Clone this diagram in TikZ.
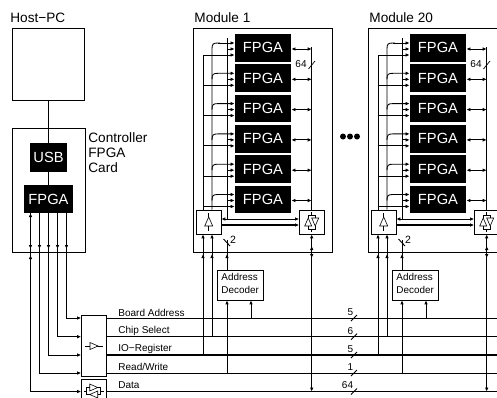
\documentclass[tikz,border=0pt]{standalone}
\usepackage{fontspec}
\setmainfont{Liberation Sans}
\usetikzlibrary{arrows.meta,calc}
\newcommand{\fs}[1]{\fontsize{#1}{#1}\selectfont}
\tikzset{
  x=1pt,y=-1pt,
  box/.style={draw,fill=white,inner sep=0pt,line width=0.75pt},
  blk/.style={fill=black,text=white,inner sep=0pt,font=\fs{14.7}},
  lbl/.style={inner sep=0pt,anchor=west,font=\fs{10}},
  ttl/.style={inner sep=0pt,anchor=west,font=\fs{13.6}},
  num/.style={inner sep=0pt,font=\fs{10}},
  ar/.style={-{Latex[length=4pt,width=3.6pt]}},
  bar/.style={{Latex[length=4pt,width=3.6pt]}-{Latex[length=4pt,width=3.6pt]}},
  pics/bufsym/.style={code={
    \draw[line width=0.6pt] (0,-9) -- (0,-5) (0,4) -- (0,9);
    \draw[line width=0.6pt] (-4,4) -- (4,4) -- (0,-5) -- cycle;}},
  pics/bidirsym/.style={code={
    \draw[line width=0.6pt] (-7,4) -- (0,4) -- (-3.5,-4) -- cycle;
    \draw[line width=0.6pt] (0,-4) -- (7,-4) -- (3.5,4) -- cycle;
    \draw[line width=0.6pt] (-3.5,-4) -- (-3.5,-7) -- (3.5,-7) -- (3.5,-4)
      (3.5,4) -- (3.5,7) -- (-3.5,7) -- (-3.5,4);
    \draw[line width=0.6pt] (0,-7) -- (0,-10) (0,7) -- (0,10);}},
}
\begin{document}
\begin{tikzpicture}[line width=0.85pt]
\useasboundingbox (0,0) rectangle (497,397);
\clip (0,0) rectangle (497,397);
\fill[white] (0,0) rectangle (497,397);

% bus coordinates
\coordinate (ba) at (0,318);
\coordinate (cs) at (0,336.7);
\coordinate (io) at (0,355);
\coordinate (rw) at (0,373);
\coordinate (da) at (0,391.5);
\coordinate (rightend) at (500,0);

% host and controller
\node[ttl] (hosttxt) at (10,17.5) {Host−PC};
\node[box,minimum width=72pt,minimum height=72pt] (host) at (48.6,64) {};
\node[box,minimum width=72.5pt,minimum height=124pt] (ctl) at (48.7,190) {};
\node[blk,minimum width=37pt,minimum height=29pt] (usb) at (48.5,157.5) {USB};
\node[blk,minimum width=49pt,minimum height=28pt] (cf) at (48.5,199) {FPGA};
\node[ttl] (c1) at (88,138) {Controller};
\node[ttl] (c2) at (88,153) {FPGA};
\node[ttl] (c3) at (88,168) {Card};
\draw[line width=1.5pt] (host.south -| usb.north) -- (usb.north);
\draw[line width=1.2pt] (usb.south) -- (cf.north);

% bus boxes
\node[box,minimum width=24.5pt,minimum height=60.5pt] (drv) at (93.7,346) {};
\node[box,minimum width=24.5pt,minimum height=24pt] (bid) at (93.7,391) {};
\draw[line width=0.6pt] (85,346) -- (103,346);
\draw[line width=0.6pt,fill=white] (90,342.5) -- (98,346) -- (90,349.5) -- cycle;
\pic[rotate=90] at (93.7,391) {bidirsym};

% controller lines to bus
\foreach \px/\bus/\bb in {66.5/ba/drv,57.5/cs/drv,48.5/io/drv,39.5/rw/drv,30.5/da/bid}{
  \coordinate (t) at (\px,0);
  \draw[ar] (cf.south -| t) |- (\bb.west |- \bus);
  \draw[ar] (\px,243) -- (\px,249);
}
\draw[ar] (30.5,220) -- (30.5,213);
\draw[ar] (30.5,262) -- (30.5,255);

% bus lines
\draw (drv.east |- ba) -- (rightend |- ba);
\draw (drv.east |- cs) -- (rightend |- cs);
\draw[line width=1.05pt] (drv.east |- io) -- (rightend |- io);
\draw (drv.east |- rw) -- (rightend |- rw);
\draw (bid.east |- da) -- (rightend |- da);

\node[lbl] (tba) at (118,312.5) {Board Address};
\node[lbl] (tcs) at (118,330.5) {Chip Select};
\node[lbl] (tio) at (118,349) {IO−Register};
\node[lbl] (trw) at (118,366.5) {Read/Write};
\node[lbl] (tda) at (118,385) {Data};

\foreach \yy/\ntxt/\nx in {318/5/350.5,336.7/6/350.5,355/5/350.5,373/1/350.5,391.5/64/347.5}{
  \draw[line width=0.9pt] (351,\yy+3) -- (357,\yy-3);
  \node[num] at (\nx,\yy-6) {\ntxt};
}

% dots
\foreach \dx in {343,350,357}{\fill (\dx,136.5) circle (3);}

% modules
\foreach \off/\m/\title in {0/a/Module 1,175/b/Module 20}{
\begin{scope}[xshift=\off pt]
  \node[ttl] (\m-t) at (194,17.5) {\title};
  \node[box,minimum width=139pt,minimum height=224pt] (\m-box) at (263,140) {};
  \coordinate (\m-x1) at (203,0);
  \coordinate (\m-x2) at (212,0);
  \coordinate (\m-x3) at (227,0);
  \coordinate (\m-xr) at (311.7,0);
  \node[box,minimum width=24.5pt,minimum height=24pt] (\m-buf) at (208.7,222) {};
  \node[box,minimum width=24.5pt,minimum height=24pt] (\m-bd) at (311.7,222) {};
  \pic at (\m-buf.center) {bufsym};
  \pic at (\m-bd.center) {bidirsym};
  \node[box,minimum width=45.5pt,minimum height=30pt,align=left,font=\fs{9.9}] (\m-dec) at (240.2,285)
     {\begin{tabular}{@{}l@{}}Address\\[2.5pt]Decoder\end{tabular}};
  % vertical rails
  \draw (\m-x1 |- \m-buf.north) -- (203,55);
  \draw (\m-x2 |- \m-buf.north) -- (212,49)
        .. controls (212,44) and (213,43) .. (218,43) -- (220,43);
  \draw (227,219) -- (227,38);
  \draw (\m-xr |- \m-bd.north) -- (311.7,47);
  \foreach \i in {1,...,6}{
    \pgfmathsetmacro{\cy}{47.9+30.3*(\i-1)}
    \node[blk,minimum width=56pt,minimum height=27.7pt] (\m-f\i) at (263,\cy) {FPGA};
    \pgfmathsetmacro{\ya}{\cy-4.9}
    \pgfmathsetmacro{\yb}{\cy+1.1}
    \pgfmathsetmacro{\yc}{\cy+7.1}
    \ifnum\i=1\relax
      \draw[ar] (218,\ya) -- (\m-f\i.west |- 0,\ya);
    \else
      \draw[ar] (212,\ya+6) .. controls (212,\ya+1) and (213,\ya) .. (218,\ya) -- (\m-f\i.west |- 0,\ya);
    \fi
    \draw[ar] (\m-x3 |- 0,\yb) -- (\m-f\i.west |- 0,\yb);
    \draw[ar] (\m-x1 |- 0,\yc) -- (\m-f\i.west |- 0,\yc);
    \draw[bar] (\m-f\i.east |- 0,\yb) -- (\m-xr |- 0,\yb);
  }
  \draw[line width=0.7pt] (308.5,69) -- (315,61);
  \node[num] (\m-n64) at (301,64) {64};
  % buffer to bidir
  \draw[bar] (\m-buf.east |- 0,219) -- (\m-bd.west |- 0,219);
  \draw[ar,line width=1.05pt] (\m-buf.east |- 0,225) -- (\m-bd.west |- 0,225);
  % bus to buffer and decoder
  \draw[ar] (\m-x1 |- io) -- (\m-buf.south -| \m-x1);
  \draw[ar] (\m-x2 |- cs) -- (\m-buf.south -| \m-x2);
  \draw[ar] (203,259) -- (203,254);
  \draw[ar] (212,259) -- (212,254);
  \draw (\m-x3 |- \m-dec.north) -- (227,240);
  \draw[ar] (227,259) -- (227,254);
  \draw[line width=0.9pt] (223.5,239) -- (230,246);
  \node[num,font=\fs{10.5}] (\m-n2) at (233,239.5) {2};
  \draw[ar] (\m-x3 |- rw) -- (\m-dec.south -| \m-x3);
  \coordinate (\m-x4) at (251,0);
  \draw[ar] (\m-x4 |- ba) -- (\m-dec.south -| \m-x4);
  \draw[bar] (\m-xr |- da) -- (\m-bd.south -| \m-xr);
  \draw[ar] (311.7,252) -- (311.7,246);
  \draw[ar] (311.7,252) -- (311.7,258);
\end{scope}
}
\end{tikzpicture}
\end{document}
